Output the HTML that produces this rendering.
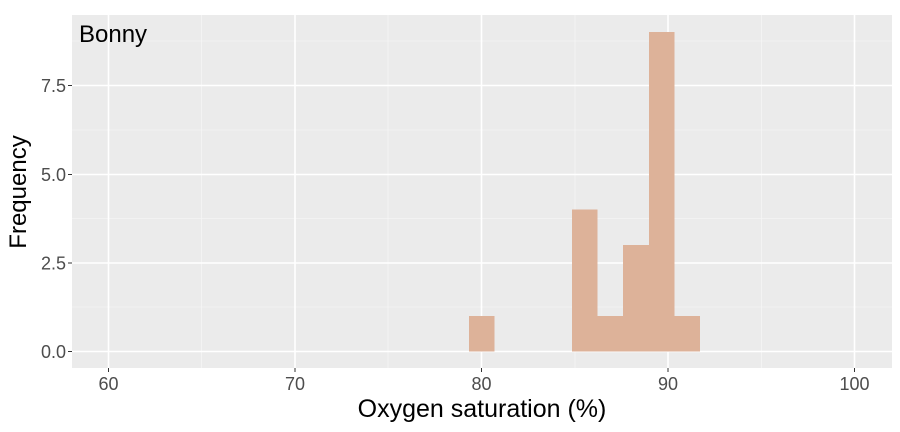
<!DOCTYPE html>
<html><head><style>body{margin:0;background:#fff}</style></head><body>
<svg width="900" height="427" xmlns="http://www.w3.org/2000/svg" font-family="Liberation Sans, sans-serif">
<rect x="72" y="15" width="820" height="353" fill="#ebebeb"/>
<g stroke="#f5f5f5" stroke-width="0.8">
<line x1="72" x2="892" y1="307" y2="307"/><line x1="72" x2="892" y1="218.5" y2="218.5"/><line x1="72" x2="892" y1="130" y2="130"/><line x1="72" x2="892" y1="41" y2="41"/>
<line x1="201.5" x2="201.5" y1="15" y2="368"/><line x1="388" x2="388" y1="15" y2="368"/><line x1="575" x2="575" y1="15" y2="368"/><line x1="761.5" x2="761.5" y1="15" y2="368"/>
</g>
<g stroke="#fff" stroke-width="1.6">
<line x1="72" x2="892" y1="351.5" y2="351.5"/><line x1="72" x2="892" y1="263" y2="263"/><line x1="72" x2="892" y1="174.5" y2="174.5"/><line x1="72" x2="892" y1="85.5" y2="85.5"/>
<line x1="108.5" x2="108.5" y1="15" y2="368"/><line x1="295" x2="295" y1="15" y2="368"/><line x1="481.5" x2="481.5" y1="15" y2="368"/><line x1="668" x2="668" y1="15" y2="368"/><line x1="854.5" x2="854.5" y1="15" y2="368"/>
</g>
<g fill="#ddb299">
<rect x="469" y="316" width="25.5" height="35.5"/>
<rect x="572" y="209.5" width="25.5" height="142"/>
<rect x="597.5" y="316" width="25.5" height="35.5"/>
<rect x="623" y="245" width="26" height="106.5"/>
<rect x="649" y="32" width="25.5" height="319.5"/>
<rect x="674.5" y="316" width="25.5" height="35.5"/>
</g>
<g stroke="#333" stroke-width="1">
<line x1="68" x2="72" y1="351.5" y2="351.5"/><line x1="68" x2="72" y1="263" y2="263"/><line x1="68" x2="72" y1="174.5" y2="174.5"/><line x1="68" x2="72" y1="85.5" y2="85.5"/>
<line x1="108.5" x2="108.5" y1="368" y2="372"/><line x1="295" x2="295" y1="368" y2="372"/><line x1="481.5" x2="481.5" y1="368" y2="372"/><line x1="668" x2="668" y1="368" y2="372"/><line x1="854.5" x2="854.5" y1="368" y2="372"/>
</g>
<g fill="#4d4d4d" font-size="18" text-anchor="end">
<text x="66" y="358">0.0</text><text x="66" y="269.5">2.5</text><text x="66" y="181">5.0</text><text x="66" y="92">7.5</text>
</g>
<g fill="#4d4d4d" font-size="18" text-anchor="middle">
<text x="108.5" y="390">60</text><text x="295" y="390">70</text><text x="481.5" y="390">80</text><text x="668" y="390">90</text><text x="854.5" y="390">100</text>
</g>
<text x="482" y="417" font-size="25" text-anchor="middle">Oxygen saturation (%)</text>
<text transform="translate(26,192) rotate(-90)" font-size="24" text-anchor="middle">Frequency</text>
<text x="79" y="42" font-size="24">Bonny</text>
</svg>
</body></html>
